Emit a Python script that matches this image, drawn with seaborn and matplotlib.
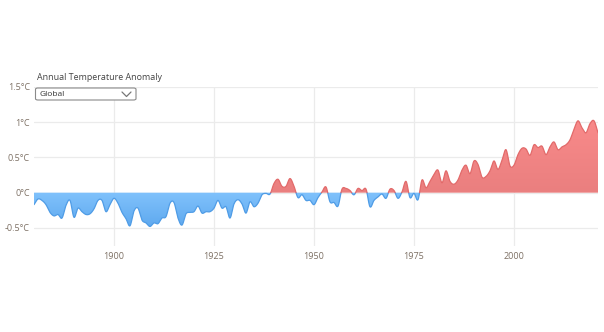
import numpy as np
import pandas as pd
import matplotlib
matplotlib.use("Agg")
import matplotlib.pyplot as plt
import seaborn as sns
from matplotlib.patches import FancyBboxPatch
from matplotlib.path import Path
from matplotlib.lines import Line2D

# Annual global mean temperature anomaly (°C)
years = list(range(1880, 2022))
anomaly = [
    -0.17, -0.09, -0.11, -0.17, -0.28, -0.33, -0.31, -0.36, -0.18, -0.11,  # 1880s
    -0.35, -0.22, -0.27, -0.31, -0.30, -0.23, -0.11, -0.11, -0.27, -0.17,  # 1890s
    -0.08, -0.15, -0.28, -0.37, -0.47, -0.26, -0.22, -0.39, -0.43, -0.48,  # 1900s
    -0.43, -0.44, -0.36, -0.34, -0.15, -0.14, -0.36, -0.46, -0.30, -0.28,  # 1910s
    -0.27, -0.19, -0.29, -0.27, -0.27, -0.22, -0.11, -0.22, -0.20, -0.36,  # 1920s
    -0.16, -0.10, -0.16, -0.29, -0.13, -0.20, -0.15, -0.03, -0.01, -0.02,  # 1930s
    0.13, 0.19, 0.09, 0.09, 0.20, 0.09, -0.07, -0.03, -0.11, -0.11,        # 1940s
    -0.17, -0.07, 0.01, 0.08, -0.13, -0.14, -0.19, 0.05, 0.06, 0.03,       # 1950s
    -0.03, 0.06, 0.03, 0.05, -0.20, -0.11, -0.06, -0.02, -0.08, 0.05,      # 1960s
    0.03, -0.08, 0.01, 0.16, -0.07, -0.01, -0.10, 0.18, 0.07, 0.16,        # 1970s
    0.26, 0.32, 0.14, 0.31, 0.16, 0.12, 0.18, 0.32, 0.39, 0.27,            # 1980s
    0.45, 0.40, 0.22, 0.23, 0.31, 0.45, 0.33, 0.46, 0.61, 0.38,            # 1990s
    0.39, 0.54, 0.63, 0.62, 0.53, 0.68, 0.64, 0.66, 0.54, 0.65,            # 2000s
    0.72, 0.61, 0.65, 0.68, 0.75, 0.90, 1.02, 0.92, 0.85, 0.98,            # 2010s
    1.02, 0.85,                                                            # 2020s
]
x_ticks = [1900, 1925, 1950, 1975, 2000]
y_ticks = [-0.5, 0, 0.5, 1, 1.5]
y_tick_labels = ["-0.5°C", "0°C", "0.5°C", "1°C", "1.5°C"]
title = "Annual Temperature Anomaly"
region = "Global"

WARM_FILL_TOP, WARM_FILL_BOT, WARM_LINE = "#f98a8a", "#ea7f7f", "#e26a6a"
COOL_FILL_TOP, COOL_FILL_BOT, COOL_LINE = "#80c2fc", "#5ea8ee", "#4f9ce6"
TEXT = "#7d7064"
GRID = "#ebebeb"


def catmull_rom(x, y, n=16):
    """Smooth curve through the yearly points (uniform Catmull-Rom)."""
    x = np.asarray(x, float)
    y = np.asarray(y, float)
    m = np.empty_like(y)
    m[1:-1] = (y[2:] - y[:-2]) / 2.0
    m[0] = y[1] - y[0]
    m[-1] = y[-1] - y[-2]
    xs, ys = [], []
    t = np.linspace(0, 1, n, endpoint=False)
    h00 = 2 * t**3 - 3 * t**2 + 1
    h10 = t**3 - 2 * t**2 + t
    h01 = -2 * t**3 + 3 * t**2
    h11 = t**3 - t**2
    for i in range(len(x) - 1):
        xs.append(x[i] + t * (x[i + 1] - x[i]))
        ys.append(h00 * y[i] + h10 * m[i] + h01 * y[i + 1] + h11 * m[i + 1])
    xs.append([x[-1]])
    ys.append([y[-1]])
    return np.concatenate(xs), np.concatenate(ys)


xs, ys = catmull_rom(years, anomaly)

# insert exact zero crossings so warm and cool pieces meet on the baseline
px, py = [xs[0]], [ys[0]]
for i in range(1, len(xs)):
    y0, y1 = ys[i - 1], ys[i]
    if (y0 > 0 and y1 < 0) or (y0 < 0 and y1 > 0):
        xc = xs[i - 1] + (xs[i] - xs[i - 1]) * (y0 / (y0 - y1))
        px.append(xc)
        py.append(0.0)
    px.append(xs[i])
    py.append(ys[i])
px, py = np.array(px), np.array(py)

sns.set_theme(style="white")
plt.rcParams["font.family"] = ["Open Sans", "DejaVu Sans"]

fig = plt.figure(figsize=(6.04, 3.32), dpi=100)
W, H = 604, 332
ax = fig.add_axes([34 / W, 1 - 245.5 / H, (598 - 34) / W, (245.5 - 87) / H])
ax.set_xlim(1880, 2021)
ax.set_ylim(-0.75, 1.5)

for yt in y_ticks:
    ax.axhline(yt, color=GRID, lw=0.9, zorder=0)
for xt in x_ticks:
    ax.axvline(xt, color=GRID, lw=0.9, zorder=0)


def gradient_fill(mask, top, bot, y_hi, y_lo):
    coll = ax.fill_between(px, 0, py, where=mask, interpolate=True,
                           color="none", lw=0)
    paths = coll.get_paths()
    if not paths:
        return
    clip = Path.make_compound_path(*paths)
    c1 = np.array(matplotlib.colors.to_rgb(top))
    c2 = np.array(matplotlib.colors.to_rgb(bot))
    g = np.linspace(0, 1, 256)[:, None]
    img = (c1[None, :] * (1 - g) + c2[None, :] * g)[:, None, :]
    im = ax.imshow(img, extent=[1880, 2021, y_lo, y_hi], aspect="auto",
                   origin="upper", zorder=1, interpolation="bilinear")
    im.set_clip_path(clip, transform=ax.transData)


gradient_fill(py >= 0, WARM_FILL_TOP, WARM_FILL_BOT, 1.05, 0.0)
gradient_fill(py <= 0, COOL_FILL_TOP, COOL_FILL_BOT, 0.0, -0.5)
ax.set_xlim(1880, 2021)
ax.set_ylim(-0.75, 1.5)

# outline: split into contiguous warm / cool runs
sign = np.where(py > 0, "warm", np.where(py < 0, "cool", "zero"))
rows = []
seg = 0
cur = None
for i in range(len(px)):
    s = sign[i]
    if s == "zero":
        rows.append((px[i], py[i], seg, cur or "cool"))
        continue
    if s != cur:
        if cur is not None and i > 0 and sign[i - 1] == "zero":
            seg += 1
            rows.append((px[i - 1], py[i - 1], seg, s))
        elif cur is not None:
            seg += 1
        cur = s
    rows.append((px[i], py[i], seg, s))
df = pd.DataFrame(rows, columns=["year", "anomaly", "segment", "side"])
sns.lineplot(data=df, x="year", y="anomaly", units="segment", estimator=None,
             hue="side", palette={"warm": WARM_LINE, "cool": COOL_LINE},
             sort=False, legend=False, lw=0.9, ax=ax, zorder=3)

ax.set_xticks(x_ticks)
ax.set_xticklabels([str(v) for v in x_ticks])
ax.set_yticks(y_ticks)
ax.set_yticklabels(y_tick_labels)
ax.tick_params(axis="both", length=0, labelsize=6.5, colors=TEXT)
ax.tick_params(axis="x", pad=5)
ax.tick_params(axis="y", pad=3)
ax.set_xlabel("")
ax.set_ylabel("")
for sp in ax.spines.values():
    sp.set_visible(False)

fig.text(37 / W, 1 - 77 / H, title, fontsize=6.4, color="#444444",
         ha="left", va="center")

# region selector
box = FancyBboxPatch((35.5 / W, 1 - 100 / H), (136 - 35.5) / W, 12 / H,
                     boxstyle="round,pad=0,rounding_size=0.004",
                     transform=fig.transFigure, facecolor="white",
                     edgecolor="#8a8a8a", lw=0.8, zorder=5)
fig.patches.append(box)
fig.text(40 / W, 1 - 94.5 / H, region, fontsize=6.0, color="#333333",
         ha="left", va="center", zorder=6)
fig.lines.append(Line2D([122 / W, 126.5 / W, 131 / W],
                        [1 - 92 / H, 1 - 96.5 / H, 1 - 92 / H],
                        transform=fig.transFigure, color="#777777", lw=0.9,
                        zorder=6))

fig.savefig("out.png", dpi=100, facecolor="white")
